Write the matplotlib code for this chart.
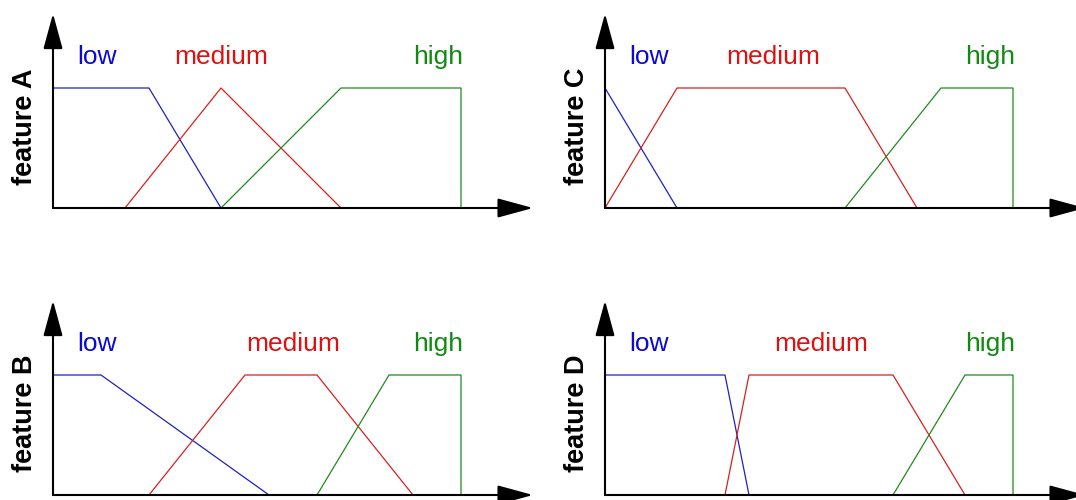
import matplotlib.pyplot as plt

# membership functions: x vertices and y vertices for each fuzzy set
features = ['feature A', 'feature B', 'feature C', 'feature D']

low_x = [[0, 4, 7], [0, 2, 9], [0, 3], [0, 5, 6]]
low_y = [[5, 5, 0], [5, 5, 0], [5, 0], [5, 5, 0]]

medium_x = [[3, 7, 12], [4, 8, 11, 15], [0, 3, 10, 13], [5, 6, 12, 15]]
medium_y = [[0, 5, 0], [0, 5, 5, 0], [0, 5, 5, 0], [0, 5, 5, 0]]

high_x = [[7, 12, 17, 17], [11, 14, 17, 17], [10, 14, 17, 17], [12, 15, 17, 17]]
high_y = [[0, 5, 5, 0], [0, 5, 5, 0], [0, 5, 5, 0], [0, 5, 5, 0]]

set_names = ['low', 'medium', 'high']
medium_label_x = [7, 10, 7, 9]

renk = {'low': '#0a0ad0', 'medium': '#e01010', 'high': '#108a10'}
line_renk = {'low': '#2020c0', 'medium': '#d82020', 'high': '#208a20'}

plt.rcParams['font.family'] = ['Liberation Sans', 'DejaVu Sans']

fig = plt.figure(figsize=(10.76, 5.0), dpi=100)

# panel positions in pixels: (left, bottom)
konum = {'feature A': (53, 292), 'feature C': (605, 292),
         'feature B': (53, 5), 'feature D': (605, 5)}

for i, f in enumerate(features):
    left, bottom = konum[f]
    ax = fig.add_axes([left / 1076, bottom / 500, 480 / 1076, 192 / 500])
    ax.set_xlim(0, 20)
    ax.set_ylim(0, 8)
    ax.axis('off')

    # axes with arrow heads
    ok = dict(arrowstyle='-|>,head_length=1.1,head_width=0.3', color='black',
              lw=1.5, shrinkA=0, shrinkB=0, mutation_scale=20)
    ax.annotate('', xy=(20, 0), xytext=(0, 0), arrowprops=ok, annotation_clip=False)
    ax.annotate('', xy=(0, 8.1), xytext=(0, 0), arrowprops=ok, annotation_clip=False)

    ax.plot(low_x[i], low_y[i], color=line_renk['low'], lw=0.9, clip_on=False)
    ax.plot(medium_x[i], medium_y[i], color=line_renk['medium'], lw=0.9, clip_on=False)
    ax.plot(high_x[i], high_y[i], color=line_renk['high'], lw=0.9, clip_on=False)

    label_x = [1.85, medium_label_x[i], 16.05]
    for name, lx in zip(set_names, label_x):
        ax.text(lx, 6.3, name, color=renk[name], fontsize=19,
                ha='center', va='center')

    ax.text(-1.17, 3.4, f, rotation=90, fontsize=19.5, fontweight='bold',
            ha='center', va='center')

plt.savefig('out.png', dpi=100)
